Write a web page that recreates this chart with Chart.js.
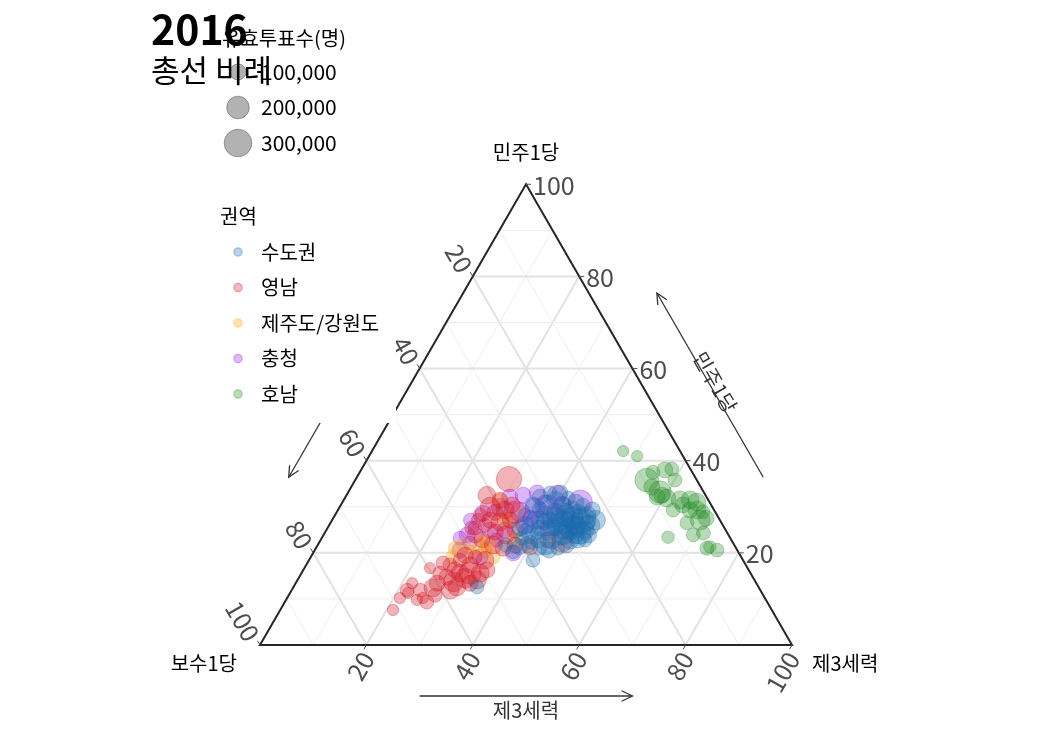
<!DOCTYPE html>
<html>
<head>
<meta charset="utf-8">
<script src="https://cdn.jsdelivr.net/npm/chart.js@4/dist/chart.umd.min.js"></script>
<style>
  html, body { margin: 0; padding: 0; background: #fff; }
  #wrap { width: 1050px; height: 750px; }
</style>
</head>
<body>
<div id="wrap"><canvas id="chartTern" width="1050" height="750"></canvas></div>
<script>
// 2016 총선 비례 - ternary (보수1당 / 민주1당 / 제3세력)
// each row: [보수1당 %, 민주1당 %, 제3세력 %, 유효투표수]

var regionNames = ['수도권', '영남', '제주도/강원도', '충청', '호남'];
var regionColors = ['25,105,170', '210,20,35', '255,165,0', '150,25,235', '34,139,34'];

var sudogwon = [
    [25.7, 27.1, 47.2, 250000], [27.7, 24.3, 48.0, 195000], [27.8, 26.0, 46.2, 155000], [28.1, 27.1, 44.8, 125000],
    [28.6, 28.2, 43.2, 155000], [29.9, 27.5, 42.6, 125000], [30.1, 28.8, 41.1, 125000], [31.9, 27.1, 41.0, 100000],
    [32.3, 28.2, 39.5, 125000], [32.7, 29.3, 38.0, 100000], [30.7, 30.4, 38.9, 155000], [28.7, 31.4, 39.9, 125000],
    [27.8, 30.4, 41.8, 100000], [26.7, 29.3, 44.0, 125000], [25.8, 28.8, 45.4, 100000], [24.4, 28.2, 47.4, 125000],
    [25.0, 26.0, 49.0, 155000], [26.4, 24.9, 48.7, 125000], [28.8, 23.9, 47.3, 125000], [29.4, 25.4, 45.2, 155000],
    [30.7, 24.9, 44.4, 125000], [31.8, 25.4, 42.8, 100000], [33.6, 24.5, 41.9, 100000], [34.7, 25.4, 39.9, 100000],
    [34.7, 27.1, 38.2, 125000], [36.2, 26.0, 37.8, 100000], [37.7, 24.9, 37.4, 75000], [37.2, 23.9, 38.9, 125000],
    [36.3, 22.8, 40.9, 100000], [35.5, 21.7, 42.8, 155000], [33.7, 22.8, 43.5, 125000], [31.9, 23.4, 44.7, 100000],
    [30.3, 22.8, 46.9, 125000], [28.8, 22.8, 48.4, 100000], [27.5, 22.8, 49.7, 75000], [31.6, 21.7, 46.7, 100000],
    [33.5, 21.0, 45.5, 75000], [35.4, 20.6, 44.0, 100000], [36.9, 21.0, 42.1, 75000], [39.5, 18.4, 42.1, 75000],
    [38.9, 21.7, 39.4, 100000], [39.2, 23.2, 37.6, 75000], [38.4, 25.4, 36.2, 100000], [36.1, 28.2, 35.7, 75000],
    [33.5, 30.4, 36.1, 100000], [31.3, 32.1, 36.6, 100000], [29.0, 33.0, 38.0, 75000], [27.1, 33.0, 39.9, 100000],
    [26.1, 31.9, 42.0, 75000], [25.1, 31.0, 43.9, 100000], [24.1, 30.4, 45.5, 75000], [22.9, 29.3, 47.8, 100000],
    [23.4, 27.1, 49.5, 155000], [27.6, 27.5, 44.9, 195000], [29.6, 26.7, 43.7, 195000], [30.9, 26.5, 42.6, 155000],
    [27.6, 25.6, 46.8, 155000], [25.9, 27.5, 46.6, 125000], [28.1, 28.8, 43.1, 125000], [32.3, 25.6, 42.1, 125000],
    [33.2, 26.7, 40.1, 100000], [35.7, 24.3, 40.0, 75000], [37.9, 22.3, 39.8, 75000], [40.6, 21.3, 38.1, 100000],
    [42.3, 20.2, 37.5, 75000], [52.9, 12.6, 34.5, 75000], [43.0, 21.7, 35.3, 75000], [31.0, 23.9, 45.1, 155000],
    [26.3, 23.9, 49.8, 100000], [28.5, 24.9, 46.6, 125000], [29.6, 24.5, 45.9, 100000], [25.4, 26.5, 48.1, 100000]
];

var yeongnam = [
    [35.2, 36.0, 28.8, 250000], [41.1, 32.5, 26.4, 125000], [39.2, 31.4, 29.4, 100000], [39.3, 29.3, 31.4, 125000],
    [41.4, 28.8, 29.8, 100000], [37.4, 30.4, 32.2, 100000], [43.2, 27.1, 29.7, 100000], [41.5, 26.7, 31.8, 125000],
    [39.4, 27.1, 33.5, 100000], [39.6, 24.9, 35.5, 100000], [41.9, 23.9, 34.2, 125000], [43.5, 24.5, 32.0, 100000],
    [44.7, 26.0, 29.3, 75000], [45.4, 27.1, 27.5, 75000], [46.9, 22.8, 30.3, 100000], [45.3, 21.7, 33.0, 125000],
    [43.8, 21.0, 35.2, 100000], [41.2, 21.7, 37.1, 100000], [32.1, 22.3, 45.6, 155000], [34.5, 22.8, 42.7, 100000],
    [38.6, 21.3, 40.1, 100000], [47.5, 25.4, 27.1, 75000], [59.7, 16.7, 23.6, 50000], [56.7, 17.8, 25.5, 75000],
    [55.6, 17.4, 27.0, 75000], [53.2, 18.4, 28.4, 75000], [51.8, 17.4, 30.8, 100000], [52.7, 15.6, 31.7, 195000],
    [50.8, 15.6, 33.6, 125000], [49.2, 16.3, 34.5, 100000], [52.1, 14.1, 33.8, 125000], [53.8, 13.4, 32.8, 100000],
    [56.8, 13.7, 29.5, 155000], [56.7, 12.6, 30.7, 125000], [58.3, 11.9, 29.8, 125000], [58.4, 15.6, 26.0, 75000],
    [57.5, 14.7, 27.8, 100000], [61.3, 12.4, 26.3, 125000], [61.7, 10.8, 27.5, 75000], [64.0, 9.3, 26.7, 75000],
    [64.3, 10.2, 25.5, 50000], [65.6, 9.8, 24.6, 50000], [64.7, 13.4, 21.9, 50000], [66.4, 11.9, 21.7, 75000],
    [66.5, 11.3, 22.2, 50000], [68.6, 10.2, 21.2, 50000], [71.2, 7.6, 21.2, 50000], [60.0, 13.4, 26.6, 100000],
    [54.6, 15.6, 29.8, 125000], [51.7, 19.5, 28.8, 100000], [50.0, 19.1, 30.9, 75000], [48.5, 18.4, 33.1, 125000],
    [55.2, 16.3, 28.5, 100000], [63.9, 11.9, 24.2, 75000], [54.2, 14.5, 31.3, 155000], [37.7, 28.8, 33.5, 195000],
    [41.8, 29.9, 28.3, 155000], [47.6, 23.9, 28.5, 100000], [44.5, 28.2, 27.3, 75000]
];

var jejuGangwon = [
    [52.8, 21.0, 26.2, 75000], [47.9, 21.3, 30.8, 100000], [46.6, 19.1, 34.3, 75000], [54.2, 19.1, 26.7, 75000],
    [47.4, 20.6, 32.0, 75000], [50.4, 20.2, 29.4, 75000], [40.4, 27.1, 32.5, 100000], [39.2, 31.4, 29.4, 75000],
    [40.7, 22.8, 36.5, 75000], [50.9, 21.7, 27.4, 75000], [46.1, 22.1, 31.8, 100000]
];

var chungcheong = [
    [27.9, 32.5, 39.6, 155000], [24.3, 31.0, 44.7, 230000], [33.4, 29.7, 36.9, 155000], [31.4, 33.0, 35.6, 100000],
    [49.1, 23.9, 27.0, 100000], [52.1, 20.6, 27.3, 100000], [49.1, 19.1, 31.8, 100000], [42.4, 20.0, 37.6, 100000],
    [43.8, 28.6, 27.6, 100000], [39.9, 29.9, 30.2, 125000], [36.7, 28.8, 34.5, 155000], [31.2, 30.4, 38.4, 155000],
    [37.2, 26.0, 36.8, 125000], [44.3, 24.9, 30.8, 100000], [46.9, 25.4, 27.7, 75000], [46.9, 27.1, 26.0, 75000],
    [41.5, 24.9, 33.6, 100000], [30.4, 28.2, 41.4, 125000], [35.4, 27.5, 37.1, 100000], [28.0, 30.4, 41.6, 125000],
    [44.2, 22.8, 33.0, 75000], [49.5, 22.1, 28.4, 75000], [33.8, 27.1, 39.1, 125000], [37.0, 32.1, 30.9, 100000],
    [33.2, 25.4, 41.4, 100000], [50.8, 23.2, 26.0, 75000], [34.3, 32.5, 33.2, 100000]
];

var honam = [
    [10.7, 42.1, 47.2, 50000], [8.6, 41.0, 50.4, 50000], [7.4, 37.5, 55.1, 75000], [4.9, 38.0, 57.1, 100000],
    [3.5, 38.2, 58.3, 75000], [9.4, 35.8, 54.8, 220000], [4.1, 35.8, 60.1, 75000], [9.2, 34.3, 56.5, 100000],
    [8.2, 33.2, 58.6, 195000], [8.2, 32.5, 59.3, 100000], [7.6, 31.9, 60.5, 125000], [5.3, 31.5, 63.2, 125000],
    [3.4, 31.5, 65.1, 125000], [2.4, 31.0, 66.6, 125000], [5.3, 30.4, 64.3, 100000], [7.7, 29.3, 63.0, 75000],
    [3.2, 29.3, 67.5, 125000], [2.3, 28.9, 68.8, 75000], [3.7, 27.1, 69.2, 155000], [2.4, 27.5, 70.1, 100000],
    [6.5, 26.5, 67.0, 75000], [6.6, 23.9, 69.5, 75000], [4.5, 24.3, 71.2, 75000], [11.6, 23.4, 65.0, 60000],
    [5.5, 21.0, 73.5, 75000], [3.8, 20.6, 75.6, 75000], [4.8, 21.3, 73.9, 60000], [9.3, 32.1, 58.6, 100000],
    [4.5, 29.3, 66.2, 100000]
];

var regionData = [sudogwon, yeongnam, jejuGangwon, chungcheong, honam];

var tickValues = [20, 40, 60, 80, 100];
var gridValues = [10, 20, 30, 40, 50, 60, 70, 80, 90];
var sizeLegendValues = [100000, 200000, 300000];
var sizeLegendLabels = ['100,000', '200,000', '300,000'];

var axisNames = { L: '보수1당', T: '민주1당', R: '제3세력' };
var titleLines = ['2016', '총선 비례'];
var sizeTitle = '유효투표수(명)';
var colorTitle = '권역';

var FONT = '"Noto Sans CJK KR", "Noto Sans", sans-serif';
var SQ = Math.sqrt(3) / 2;
var UNIT = 5.32;

function radiusFor(v) { return 8 * Math.sqrt(v / 100000); }
function toXY(p) { return { x: p[2] + p[1] / 2, y: p[1] * SQ, v: p[3] }; }

var TernModule = (function() {
    var chart = null;

    function tp(c, L, T, R) {
        return [c.scales.x.getPixelForValue(R + T / 2), c.scales.y.getPixelForValue(T * SQ)];
    }

    function line(ctx, a, b) { ctx.beginPath(); ctx.moveTo(a[0], a[1]); ctx.lineTo(b[0], b[1]); ctx.stroke(); }

    function arrow(ctx, a, b) {
        line(ctx, a, b);
        var ang = Math.atan2(b[1] - a[1], b[0] - a[0]), h = 12;
        ctx.beginPath();
        ctx.moveTo(b[0] - h * Math.cos(ang - 0.45), b[1] - h * Math.sin(ang - 0.45));
        ctx.lineTo(b[0], b[1]);
        ctx.lineTo(b[0] - h * Math.cos(ang + 0.45), b[1] - h * Math.sin(ang + 0.45));
        ctx.stroke();
    }

    function rotText(ctx, txt, x, y, ang, align) {
        ctx.save();
        ctx.translate(x, y);
        ctx.rotate(ang);
        ctx.textAlign = align;
        ctx.textBaseline = 'middle';
        ctx.fillText(txt, 0, 0);
        ctx.restore();
    }

    var gridPlugin = {
        id: 'ternGrid',
        beforeDatasetsDraw: function(c) {
            var ctx = c.ctx;
            ctx.save();
            gridValues.forEach(function(k) {
                var major = k % 20 === 0;
                ctx.strokeStyle = major ? '#e2e2e2' : '#ededed';
                ctx.lineWidth = major ? 2 : 1;
                line(ctx, tp(c, 100 - k, k, 0), tp(c, 0, k, 100 - k));
                line(ctx, tp(c, k, 100 - k, 0), tp(c, k, 0, 100 - k));
                line(ctx, tp(c, 0, 100 - k, k), tp(c, 100 - k, 0, k));
            });
            // triangle border
            ctx.strokeStyle = '#262626';
            ctx.lineWidth = 2;
            var A = tp(c, 100, 0, 0), B = tp(c, 0, 0, 100), C = tp(c, 0, 100, 0);
            ctx.beginPath(); ctx.moveTo(A[0], A[1]); ctx.lineTo(B[0], B[1]); ctx.lineTo(C[0], C[1]); ctx.closePath(); ctx.stroke();
            ctx.restore();
        }
    };

    var decoPlugin = {
        id: 'ternDeco',
        afterDraw: function(c) {
            var ctx = c.ctx;
            ctx.save();

            // ticks + labels
            ctx.strokeStyle = '#4d4d4d';
            ctx.lineWidth = 1;
            ctx.fillStyle = '#4d4d4d';
            ctx.font = '25px ' + FONT;
            tickValues.forEach(function(k) {
                var pT = tp(c, 0, k, 100 - k);
                line(ctx, pT, [pT[0] + 5, pT[1]]);
                rotText(ctx, String(k), pT[0] + 7, pT[1] + 1, 0, 'left');

                var pL = tp(c, k, 100 - k, 0);
                line(ctx, pL, [pL[0] - 2.5, pL[1] - 4.3]);
                rotText(ctx, String(k), pL[0] - 7, pL[1] - 6, Math.PI / 3, 'right');

                var pR = tp(c, 100 - k, 0, k);
                line(ctx, pR, [pR[0] - 2.5, pR[1] + 4.3]);
                rotText(ctx, String(k), pR[0] + 1, pR[1] + 9, -Math.PI / 3, 'right');
            });

            // vertex titles
            ctx.fillStyle = '#000';
            ctx.font = '20px ' + FONT;
            var top = tp(c, 0, 100, 0), bl = tp(c, 100, 0, 0), br = tp(c, 0, 0, 100);
            rotText(ctx, axisNames.T, top[0], top[1] - 32, 0, 'center');
            rotText(ctx, axisNames.L, bl[0] - 23, bl[1] + 18, 0, 'right');
            rotText(ctx, axisNames.R, br[0] + 20, br[1] + 18, 0, 'left');

            // direction arrows
            ctx.strokeStyle = '#333';
            ctx.fillStyle = '#333';
            ctx.lineWidth = 1.3;
            var off = 59, nR = [0.866 * off, -0.5 * off], nL = [-0.866 * off, -0.5 * off];
            var b1 = tp(c, 70, 0, 30), b2 = tp(c, 30, 0, 70);
            arrow(ctx, [b1[0], b1[1] + 51], [b2[0], b2[1] + 51]);
            rotText(ctx, axisNames.R, (b1[0] + b2[0]) / 2, b1[1] + 65, 0, 'center');

            var r1 = tp(c, 0, 30, 70), r2 = tp(c, 0, 70, 30);
            arrow(ctx, [r1[0] + nR[0], r1[1] + nR[1]], [r2[0] + nR[0], r2[1] + nR[1]]);
            rotText(ctx, axisNames.T, (r1[0] + r2[0]) / 2 + nR[0] * 1.1, (r1[1] + r2[1]) / 2 + nR[1] * 1.1, Math.PI / 3, 'center');

            var l1 = tp(c, 30, 70, 0), l2 = tp(c, 70, 30, 0);
            arrow(ctx, [l1[0] + nL[0], l1[1] + nL[1]], [l2[0] + nL[0], l2[1] + nL[1]]);
            rotText(ctx, axisNames.L, (l1[0] + l2[0]) / 2 + nL[0] * 1.1, (l1[1] + l2[1]) / 2 + nL[1] * 1.1, -Math.PI / 3, 'center');

            // legend background
            ctx.fillStyle = '#fff';
            ctx.fillRect(205, 195, 191, 228);

            // colour legend
            ctx.fillStyle = '#000';
            ctx.font = '20px ' + FONT;
            rotText(ctx, colorTitle, 220, 216, 0, 'left');
            regionNames.forEach(function(n, i) {
                var y = 252 + i * 35.5;
                ctx.beginPath();
                ctx.arc(238, y, 4.2, 0, Math.PI * 2);
                ctx.fillStyle = 'rgba(' + regionColors[i] + ',0.3)';
                ctx.strokeStyle = 'rgba(' + regionColors[i] + ',0.3)';
                ctx.fill(); ctx.stroke();
                ctx.fillStyle = '#000';
                rotText(ctx, n, 261, y, 0, 'left');
            });

            // size legend
            rotText(ctx, sizeTitle, 222, 38, 0, 'left');
            sizeLegendValues.forEach(function(v, i) {
                var y = 72 + i * 35.5;
                ctx.beginPath();
                ctx.arc(238, y, radiusFor(v), 0, Math.PI * 2);
                ctx.fillStyle = 'rgba(0,0,0,0.3)';
                ctx.strokeStyle = 'rgba(0,0,0,0.3)';
                ctx.lineWidth = 1;
                ctx.fill(); ctx.stroke();
                ctx.fillStyle = '#000';
                ctx.font = '21px ' + FONT;
                rotText(ctx, sizeLegendLabels[i], 261, y, 0, 'left');
            });

            // title
            ctx.fillStyle = '#000';
            ctx.textBaseline = 'alphabetic';
            ctx.textAlign = 'left';
            ctx.font = 'bold 41px ' + FONT;
            ctx.fillText(titleLines[0], 151, 45);
            ctx.font = '31px ' + FONT;
            ctx.fillText(titleLines[1], 151, 82);

            ctx.restore();
        }
    };

    function init() {
        var canvas = document.getElementById('chartTern');
        var datasets = regionData.map(function(rows, i) {
            return {
                label: regionNames[i],
                data: rows.map(toXY),
                backgroundColor: 'rgba(' + regionColors[i] + ',0.32)',
                borderColor: 'rgba(' + regionColors[i] + ',0.32)',
                borderWidth: 1,
                pointRadius: function(ctx) { return ctx.raw ? radiusFor(ctx.raw.v) : 3; },
                pointHoverRadius: function(ctx) { return ctx.raw ? radiusFor(ctx.raw.v) : 3; }
            };
        });

        chart = new Chart(canvas, {
            type: 'scatter',
            data: { datasets: datasets },
            options: {
                responsive: false, animation: false, devicePixelRatio: 1,
                layout: { padding: 0, autoPadding: false },
                scales: {
                    x: { type: 'linear', display: false, min: -260 / UNIT, max: (1050 - 260) / UNIT },
                    y: { type: 'linear', display: false, min: -(750 - 645) / UNIT, max: 645 / UNIT }
                },
                plugins: { legend: { display: false }, tooltip: { enabled: false } }
            },
            plugins: [gridPlugin, decoPlugin]
        });
    }

    return { init: init };
})();

TernModule.init();
</script>
</body>
</html>
